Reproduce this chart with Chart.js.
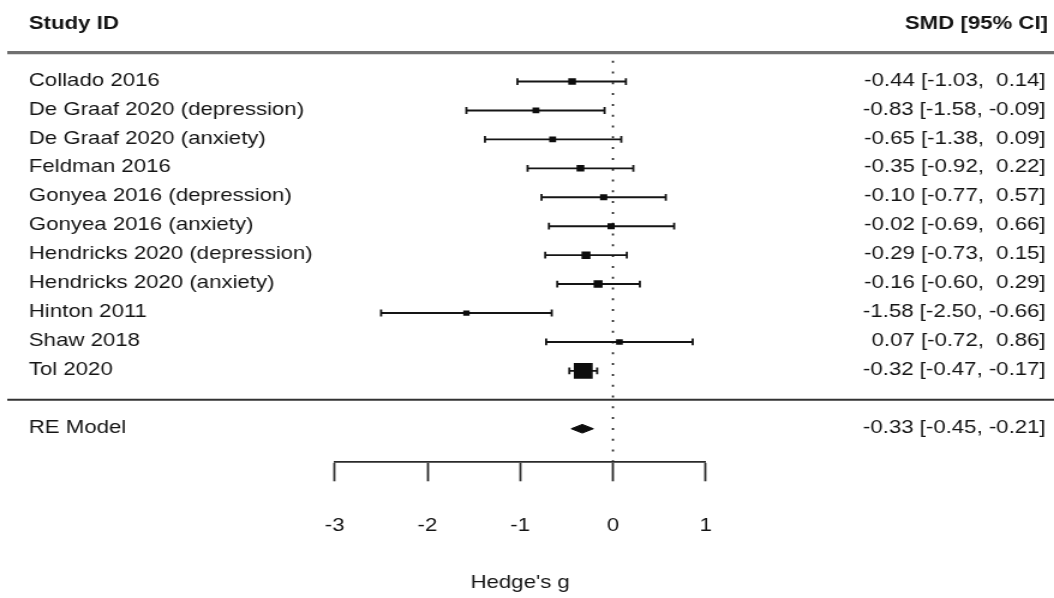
<!DOCTYPE html>
<html lang="en">
<head>
<meta charset="UTF-8">
<title>Forest plot - Hedge's g</title>
<script src="https://cdn.jsdelivr.net/npm/chart.js"></script>
<style>
  html, body { margin: 0; padding: 0; overflow: hidden; background: #fff; }
  /* plot is drawn narrow and stretched to the page width */
  #wrap { width: 878px; height: 598px; transform: scaleX(1.2005); transform-origin: 0 0; }
  canvas { display: block; }
</style>
</head>
<body>
<div id="wrap"><canvas id="forest" width="878" height="598"></canvas></div>

<script>
// study level results (SMD with 95% CI)
const studies = [
    'Collado 2016',
    'De Graaf 2020 (depression)',
    'De Graaf 2020 (anxiety)',
    'Feldman 2016',
    'Gonyea 2016 (depression)',
    'Gonyea 2016 (anxiety)',
    'Hendricks 2020 (depression)',
    'Hendricks 2020 (anxiety)',
    'Hinton 2011',
    'Shaw 2018',
    'Tol 2020'
];
const smd    = [-0.44, -0.83, -0.65, -0.35, -0.10, -0.02, -0.29, -0.16, -1.58, 0.07, -0.32];
const ciLow  = [-1.03, -1.58, -1.38, -0.92, -0.77, -0.69, -0.73, -0.60, -2.50, -0.72, -0.47];
const ciHigh = [ 0.14, -0.09,  0.09,  0.22,  0.57,  0.66,  0.15,  0.29, -0.66, 0.86, -0.17];

// random effects summary: estimate, lower, upper
const reModel = [-0.33, -0.45, -0.21];
const xTicks = [-3, -2, -1, 0, 1];

const FONT = '"Liberation Sans", Arial, Helvetica, sans-serif';
const TEXT = '#141414';
const INK = '#151515';
const k = studies.length;
const rowOf = i => k - i;          // first study on top, last one at row 1
const reRow = -1;
const yBottom = -2.16, yTop = 13.3;

// square size from inverse standard error, scaled to 0.5..1.5 like metafor
const invSe = ciLow.map((lo, i) => 3.92 / (ciHigh[i] - lo));
const wMin = Math.min(...invSe), wMax = Math.max(...invSe);
const psize = invSe.map(w => 0.5 + (w - wMin) / (wMax - wMin));
const squareRadius = psize.map(p => (p * 10.5) / (2 * Math.SQRT1_2));

const fmt = v => (v < 0 ? '-' : ' ') + Math.abs(v).toFixed(2);
const ciLabel = (e, lo, hi) => `${fmt(e)} [${fmt(lo)}, ${fmt(hi)}]`;

// one dataset per confidence interval, with vertical end caps
const ciSets = studies.map((s, i) => ({
    data: [{ x: ciLow[i], y: rowOf(i) }, { x: ciHigh[i], y: rowOf(i) }],
    showLine: true,
    borderColor: INK,
    borderWidth: 1.9,
    pointStyle: 'line',
    rotation: 90,
    pointRadius: 3.4,
    pointBorderWidth: 1.8,
    pointBorderColor: INK,
    order: 2
}));

const dh = 0.15; // half height of the summary diamond, in rows
const [reEst, reLo, reHi] = reModel;

const tableText = {
    id: 'tableText',
    afterDraw(chart) {
        const { ctx, scales: { y } } = chart;
        const leftX = 24, rightX = 871;
        ctx.save();

        // rules under the header and above the summary row
        ctx.strokeStyle = '#707070';
        ctx.lineWidth = 3.2;
        ctx.beginPath();
        ctx.moveTo(6, y.getPixelForValue(12));
        ctx.lineTo(878, y.getPixelForValue(12));
        ctx.stroke();
        ctx.strokeStyle = '#333';
        ctx.lineWidth = 2;
        ctx.beginPath();
        ctx.moveTo(6, y.getPixelForValue(0));
        ctx.lineTo(878, y.getPixelForValue(0));
        ctx.stroke();

        ctx.fillStyle = TEXT;
        ctx.textBaseline = 'middle';

        ctx.font = `bold 18.5px ${FONT}`;
        const hy = y.getPixelForValue(12.98);
        ctx.textAlign = 'left';
        ctx.fillText('Study ID', leftX, hy);
        ctx.textAlign = 'right';
        ctx.fillText('SMD [95% CI]', rightX + 2, hy);

        ctx.font = `18.5px ${FONT}`;
        studies.forEach((s, i) => {
            const py = y.getPixelForValue(rowOf(i)) - 1;
            ctx.textAlign = 'left';
            ctx.fillText(s, leftX, py);
            ctx.textAlign = 'right';
            ctx.fillText(ciLabel(smd[i], ciLow[i], ciHigh[i]), rightX, py);
        });

        const ry = y.getPixelForValue(reRow) - 1;
        ctx.textAlign = 'left';
        ctx.fillText('RE Model', leftX, ry);
        ctx.textAlign = 'right';
        ctx.fillText(ciLabel(reEst, reLo, reHi), rightX, ry);

        ctx.restore();
    }
};

const chart = new Chart(document.getElementById('forest'), {
    type: 'scatter',
    data: {
        datasets: [
            {
                // point estimates
                data: smd.map((v, i) => ({ x: v, y: rowOf(i) })),
                pointStyle: 'rect',
                pointRadius: squareRadius,
                pointBorderWidth: 0,
                backgroundColor: '#0d0d0d',
                order: 0
            },
            {
                // pooled estimate diamond
                data: [
                    { x: reLo, y: reRow },
                    { x: reEst, y: reRow + dh },
                    { x: reHi, y: reRow },
                    { x: reEst, y: reRow - dh },
                    { x: reLo, y: reRow }
                ],
                showLine: true,
                fill: 'shape',
                backgroundColor: '#0d0d0d',
                borderColor: '#0d0d0d',
                borderWidth: 1,
                pointRadius: 0,
                order: 1
            },
            ...ciSets,
            {
                // no-effect reference line
                data: [{ x: 0, y: yBottom }, { x: 0, y: 12 }],
                showLine: true,
                borderColor: '#222',
                borderWidth: 1.7,
                borderDash: [2, 8.8],
                pointRadius: 0,
                order: 3
            }
        ]
    },
    options: {
        responsive: false,
        animation: false,
        events: [],
        layout: { padding: { left: 278.8, right: 290.2, top: 15, bottom: 0 } },
        plugins: { legend: { display: false }, tooltip: { enabled: false } },
        scales: {
            y: { type: 'linear', display: false, min: yBottom, max: yTop },
            x: {
                type: 'linear',
                min: -3,
                max: 1,
                afterBuildTicks: s => { s.ticks = xTicks.map(v => ({ value: v })); },
                afterFit: s => { s.height = 135.7; },
                grid: { drawOnChartArea: false, drawTicks: true, tickLength: 19, tickColor: '#2a2a2a', tickWidth: 1.8 },
                border: { display: true, color: '#2a2a2a', width: 1.8 },
                ticks: { color: TEXT, padding: 34, maxRotation: 0, font: { family: FONT, size: 18.5 } },
                title: {
                    display: true,
                    text: "Hedge's g",
                    color: TEXT,
                    font: { family: FONT, size: 18.5 },
                    padding: { top: 0, bottom: 4 }
                }
            }
        }
    },
    plugins: [tableText]
});
</script>
</body>
</html>
